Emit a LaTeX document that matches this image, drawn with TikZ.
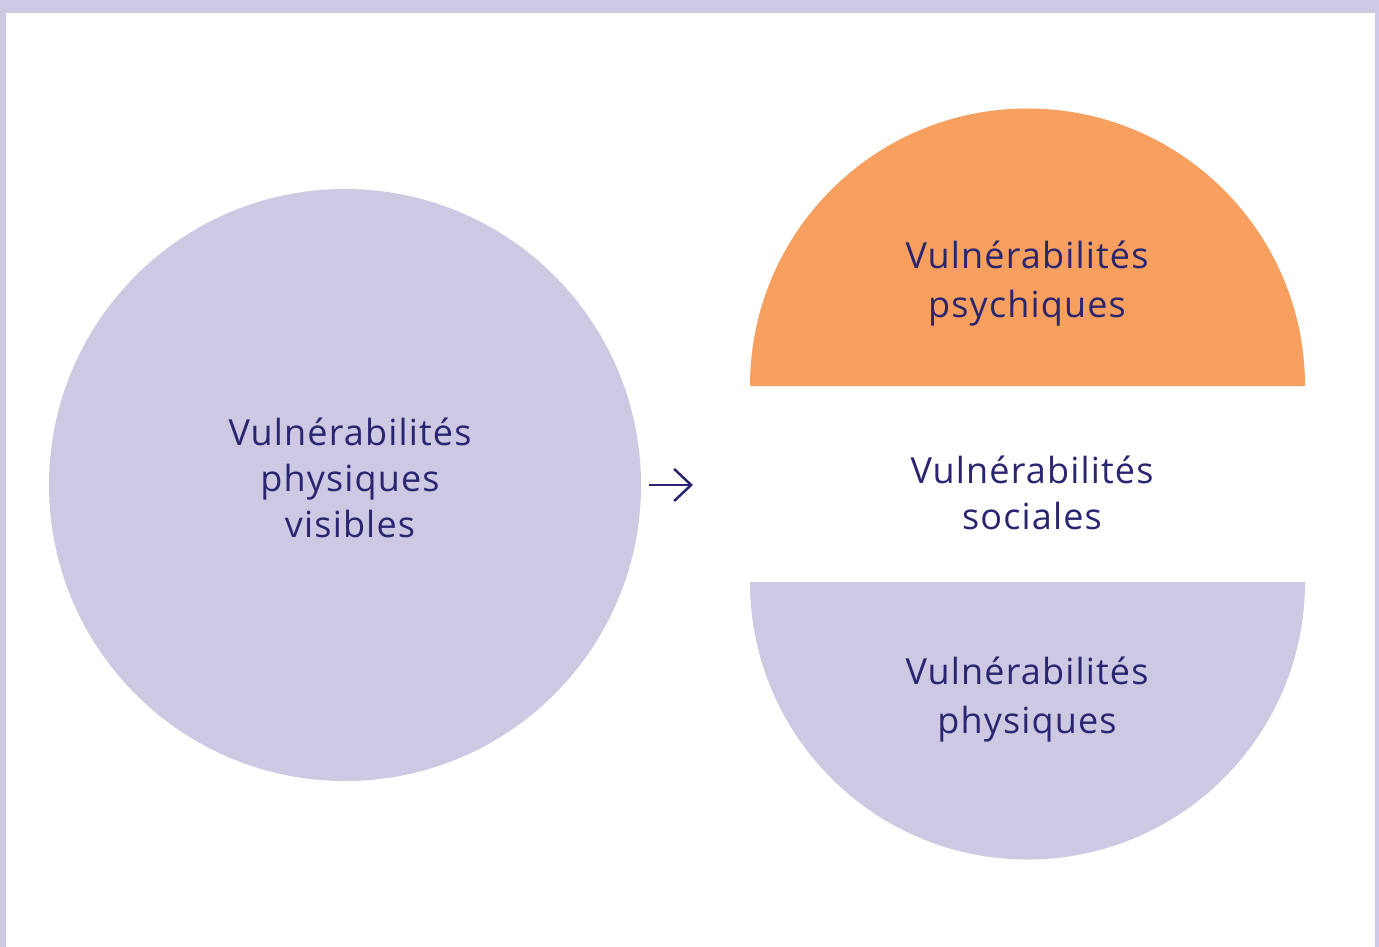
\documentclass[tikz,border=0pt]{standalone}
\usepackage{fontspec}
\setmainfont{Open Sans}[LetterSpace=3.2]
\usetikzlibrary{arrows.meta}
\definecolor{lav}{RGB}{205,201,227}
\definecolor{ora}{RGB}{246,159,94}
\definecolor{ink}{RGB}{42,37,112}
\tikzset{
  lbl/.style={text=ink, align=center, font=\fontsize{36}{46}\selectfont, inner sep=0pt},
  lblw/.style={lbl, font=\fontsize{36}{49}\selectfont},
  conn/.style={draw=ink, line width=2.5pt, -{Straight Barb[length=17pt,width=32pt]}}
}
\begin{document}
\begin{tikzpicture}[x=1pt,y=-1pt]
\useasboundingbox (0,0) rectangle (1379,947);
\fill[lav] (0,0) rectangle (1379,947);
\fill[white] (6,13) rectangle (1375,947);
\node[circle, fill=lav, minimum size=592pt, inner sep=0pt] (left) at (345,485) {};
\fill[ora] (750,386) arc[start angle=180, end angle=0, radius=277.5pt] -- cycle;
\fill[lav] (750,582) arc[start angle=180, end angle=360, radius=277.5pt] -- cycle;
\node[lbl] (t1) at (350,478) {Vulnérabilités\\physiques\\visibles};
\node[lblw] (t2) at (1027,284) {Vulnérabilités\\psychiques};
\node[lbl] (t3) at (1032,493) {Vulnérabilités\\sociales};
\node[lblw] (t4) at (1027,700) {Vulnérabilités\\physiques};
\coordinate (a0) at (649,485);
\coordinate (a1) at (693,485);
\draw[conn] (a0) -- (a1);
\end{tikzpicture}
\end{document}
